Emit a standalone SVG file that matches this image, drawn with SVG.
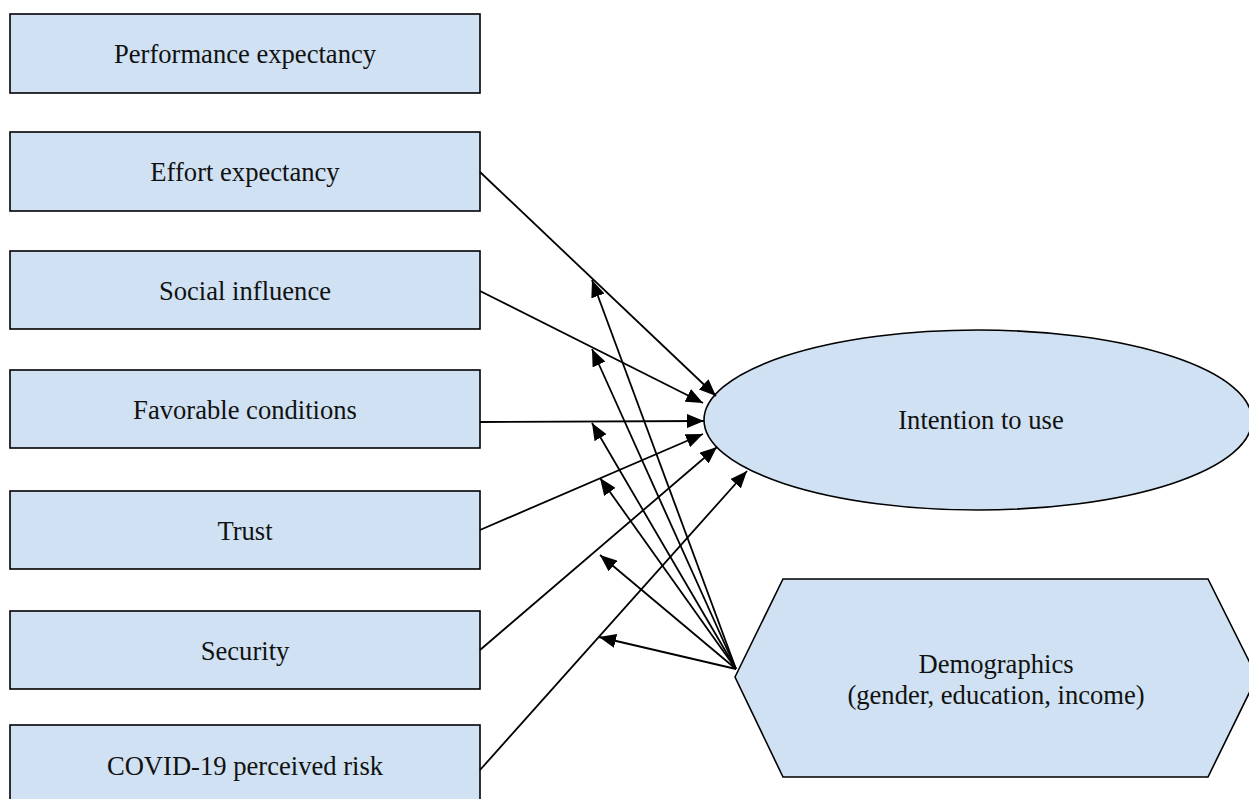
<svg xmlns="http://www.w3.org/2000/svg" width="1249" height="799" viewBox="0 0 1249 799">
<style>
.box{fill:#cfe1f2;stroke:#000;stroke-width:1.6}
.lbl{font-family:"Liberation Serif","Times New Roman",serif;font-size:26.6px;fill:#111;text-anchor:middle}
.cn{stroke:#000;stroke-width:1.8;fill:none;marker-end:url(#ah)}
</style>
<defs>
<marker id="ah" markerUnits="userSpaceOnUse" markerWidth="18" markerHeight="14" refX="17" refY="7" orient="auto">
<path d="M0,0 L17,7 L0,14 z" fill="#000"/>
</marker>
</defs>
<rect width="1249" height="799" fill="#fff"/>
<g id="n-performance"><rect class="box" x="10" y="14" width="470" height="79"/><text class="lbl" x="245" y="63">Performance expectancy</text></g>
<g id="n-effort"><rect class="box" x="10" y="132" width="470" height="79"/><text class="lbl" x="245" y="181">Effort expectancy</text></g>
<g id="n-social"><rect class="box" x="10" y="251" width="470" height="78"/><text class="lbl" x="245" y="300">Social influence</text></g>
<g id="n-favorable"><rect class="box" x="10" y="370" width="470" height="78"/><text class="lbl" x="245" y="419">Favorable conditions</text></g>
<g id="n-trust"><rect class="box" x="10" y="491" width="470" height="78"/><text class="lbl" x="245" y="540">Trust</text></g>
<g id="n-security"><rect class="box" x="10" y="611" width="470" height="78"/><text class="lbl" x="245" y="660">Security</text></g>
<g id="n-covid"><rect class="box" x="10" y="725" width="470" height="80"/><text class="lbl" x="245" y="775">COVID-19 perceived risk</text></g>
<g id="n-intention"><ellipse class="box" cx="978" cy="420" rx="274" ry="90"/><text class="lbl" x="981" y="429">Intention to use</text></g>
<g id="n-demographics"><polygon class="box" points="735,677 783,579 1208,579 1257,677 1208,777 783,777"/><text class="lbl" x="996" y="673">Demographics</text><text class="lbl" x="996" y="704">(gender, education, income)</text></g>
<g id="connectors">
<line class="cn" x1="480" y1="172" x2="716" y2="396"/>
<line class="cn" x1="480" y1="291" x2="703" y2="403"/>
<line class="cn" x1="480" y1="422" x2="704" y2="421"/>
<line class="cn" x1="480" y1="530" x2="703" y2="434"/>
<line class="cn" x1="480" y1="650" x2="717" y2="447"/>
<line class="cn" x1="480" y1="770" x2="747" y2="471"/>
<line class="cn" x1="736" y1="669" x2="592" y2="280"/>
<line class="cn" x1="736" y1="669" x2="592" y2="349"/>
<line class="cn" x1="736" y1="669" x2="592" y2="423"/>
<line class="cn" x1="736" y1="669" x2="600" y2="478"/>
<line class="cn" x1="736" y1="669" x2="600" y2="555"/>
<line class="cn" x1="736" y1="669" x2="599" y2="637"/>
</g>
</svg>
